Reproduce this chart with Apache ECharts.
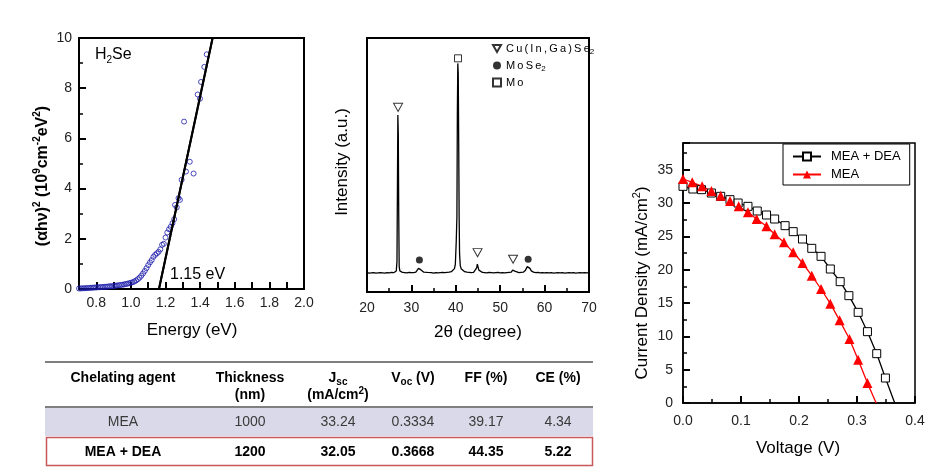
<!DOCTYPE html>
<html><head><meta charset="utf-8">
<script src="https://cdn.jsdelivr.net/npm/echarts/dist/echarts.min.js"></script>
<style>html,body{margin:0;padding:0;background:#fff}#c{width:950px;height:474px}</style>
</head><body><div id="c"></div>
<script>
// ---------- Panel A: Tauc plot ----------
const taucEnergy = [0.70,0.71,0.72,0.73,0.74,0.75,0.76,0.77,0.78,0.79,0.80,0.81,0.82,0.83,0.84,0.85,0.86,0.87,0.88,0.89,
  0.90,0.91,0.92,0.93,0.94,0.95,0.96,0.97,0.98,0.99,1.00,1.01,1.02,1.03,1.04,1.05,1.06,1.07,1.08,1.09,
  1.10,1.11,1.12,1.13,1.14,1.15,1.16,1.17,1.18,1.19,1.20,1.21,1.22,1.23,1.24,1.25,1.255,1.265,1.275,1.283,
  1.293,1.307,1.318,1.34,1.362,1.386,1.399,1.405,1.424,1.438];
const taucValue = [0.02,0.02,0.03,0.03,0.03,0.04,0.04,0.05,0.05,0.06,0.06,0.07,0.07,0.08,0.08,0.09,0.09,0.10,0.11,0.11,
  0.12,0.13,0.14,0.15,0.16,0.17,0.18,0.20,0.21,0.23,0.25,0.27,0.30,0.34,0.39,0.45,0.53,0.62,0.72,0.83,
  0.95,1.06,1.15,1.28,1.36,1.42,1.48,1.58,1.76,1.80,2.05,2.25,2.38,2.48,2.62,2.78,3.35,3.25,3.62,3.55,
  4.35,6.67,4.68,5.07,4.60,7.75,7.58,8.25,8.85,9.35];
const fitLine = [[1.472, 10], [1.162, 0]];
const energyTicks = [0.8, 1.0, 1.2, 1.4, 1.6, 1.8, 2.0];

// ---------- Panel B: XRD ----------
const xrdTheta = [20.0,20.5,21.0,21.5,22.0,22.5,23.0,23.5,24.0,24.5,25.0,25.5,26.0,26.4,26.6,26.75,26.85,26.95,27.05,27.15,27.25,27.4,27.6,
  28.0,28.5,29.0,29.5,30.0,30.5,31.0,31.3,31.6,31.8,32.1,32.4,32.8,33.2,33.6,34.0,34.5,35.0,35.5,36.0,36.5,37.0,37.5,38.0,38.5,39.0,39.4,39.7,39.9,
  40.1,40.25,40.35,40.45,40.55,40.65,40.75,40.85,41.0,41.2,41.5,42.0,42.5,43.0,43.5,44.0,44.4,44.7,44.85,45.0,45.2,45.5,46.0,46.5,47.0,47.5,48.0,
  48.5,49.0,49.5,50.0,50.5,51.0,51.5,52.0,52.5,52.8,53.0,53.3,53.7,54.2,54.7,55.2,55.7,56.1,56.4,56.7,57.0,57.5,58.0,58.5,59.0,59.5,60.0,
  60.5,61.0,61.5,62.0,62.5,63.0,63.5,64.0,64.5,65.0,65.5,66.0,66.5,67.0,67.5,68.0,68.5,69.0,69.5,70.0];
const xrdIntensity = [7.6,7.4,7.5,7.6,7.4,7.5,7.6,7.5,7.4,7.6,7.5,7.7,7.6,7.8,8.3,12,40,69.7,62,30,10,8.3,7.9,
  7.7,7.6,7.5,7.7,7.6,7.6,7.8,8.4,9.3,9.4,8.8,8.1,7.8,7.6,7.7,7.5,7.6,7.4,7.6,7.5,7.6,7.7,7.6,7.7,7.8,8.0,8.4,9.2,11,
  20,29.6,70,90,86,60,30,15,10.5,9.2,8.5,8.0,7.8,7.7,7.6,7.7,8.0,9.5,11.0,10.6,8.6,7.9,7.7,7.6,7.5,7.7,7.6,
  7.5,7.6,7.7,7.5,7.6,7.5,7.6,7.7,7.8,8.6,8.8,8.2,7.7,7.6,7.7,7.8,8.6,10.0,10.2,9.3,8.3,7.8,7.6,7.7,7.5,7.6,7.5,
  7.6,7.5,7.6,7.4,7.5,7.6,7.5,7.6,7.4,7.5,7.6,7.5,7.6,7.4,7.5,7.6,7.5,7.6,7.5,7.6];
const cigsMarks = [[27.0, 72.7], [44.9, 15.5], [52.9, 12.9]];
const mose2Marks = [[31.8, 12.6], [56.3, 12.9]];
const moMarks = [[40.5, 92]];
const xrdLegend = ['Cu(In,Ga)Se2', 'MoSe2', 'Mo'];

// ---------- Panel C: J-V ----------
const deaVoltage = [0.000,0.017,0.032,0.049,0.065,0.081,0.095,0.112,0.128,0.144,0.158,0.176,0.190,0.206,0.222,0.238,0.254,0.271,0.286,0.302,0.318,0.334,0.349];
const deaCurrent = [32.5,32.1,32.0,31.5,31.0,30.5,30.0,29.5,28.8,28.2,27.6,26.6,25.7,24.6,23.2,22.0,20.1,18.2,16.1,13.6,10.7,7.4,3.75];
const deaEnd = [0.365, 0];
const meaVoltage = [0.000,0.016,0.033,0.049,0.065,0.081,0.096,0.112,0.127,0.144,0.158,0.174,0.190,0.206,0.222,0.238,0.254,0.270,0.287,0.302,0.318];
const meaCurrent = [33.6,33.1,32.5,31.8,31.1,30.3,29.5,28.6,27.6,26.5,25.3,24.1,22.6,21.0,19.1,17.1,14.9,12.4,9.6,6.5,3.0];
const meaEnd = [0.333, 0];
const jvLegend = ['MEA + DEA', 'MEA'];

// ---------- Table ----------
const tableHead1 = ['Chelating agent', 'Thickness', '{b|J}{bs|sc}', '{b|V}{bs|oc}{b| (V)}', 'FF (%)', 'CE (%)'];
const tableHead2 = ['', '(nm)', '{b|(mA/cm}{bp|2}{b|)}', '', '', ''];
const tableRowMEA = ['MEA', '1000', '33.24', '0.3334', '39.17', '4.34'];
const tableRowDEA = ['MEA + DEA', '1200', '32.05', '0.3668', '44.35', '5.22'];

const F = 'Arial, "Liberation Sans", Helvetica, sans-serif';
const chart = echarts.init(document.getElementById('c'), null, {renderer: 'canvas'});

const TICK = {show: true, inside: true, length: 7, lineStyle: {color: '#000', width: 2}};
const MINOR = {show: true, splitNumber: 2, length: 4, lineStyle: {color: '#000', width: 1.5}};
function axisBase(extra) {
  return Object.assign({
    type: 'value',
    axisLine: {show: true, lineStyle: {color: '#000', width: 2}},
    axisTick: TICK,
    splitLine: {show: false},
    axisLabel: {color: '#222', fontSize: 14, fontFamily: F}
  }, extra);
}
const spaced = s => s.split('').join('\u2009');

const colX = [123, 250, 338, 413, 486, 558];
const graphics = [];
function txt(x, y, text, style, rotation) {
  graphics.push({type: 'text', x: x, y: y, rotation: rotation || 0, silent: true, z: 100,
    style: Object.assign({text: text, fill: '#000', align: 'center', verticalAlign: 'middle',
      textAlign: 'center', textVerticalAlign: 'middle', fontFamily: F}, style)});
}
// Axis titles
txt(43, 176, '{n|(\u03b1h\u03bd)}{p|2}{n| (10}{p|9}{n|cm}{p|-2}{n|eV}{p|2}{n|)}', {
  rich: {n: {fontSize: 16, fontWeight: 'bold', fontFamily: F, lineHeight: 22},
         p: {fontSize: 10, fontWeight: 'bold', fontFamily: F, lineHeight: 10, verticalAlign: 'top'}}}, Math.PI / 2);
txt(192, 330, 'Energy (eV)', {fontSize: 17});
txt(342, 162, 'Intensity (a.u.)', {fontSize: 17}, Math.PI / 2);
txt(478, 332, '2\u03b8 (degree)', {fontSize: 17});
txt(642, 283, '{n|Current Density (mA/cm}{p|2}{n|)}', {
  rich: {n: {fontSize: 17, fontFamily: F, lineHeight: 22},
         p: {fontSize: 11, fontFamily: F, lineHeight: 10, verticalAlign: 'top'}}}, Math.PI / 2);
txt(798, 448, 'Voltage (V)', {fontSize: 17});
// Annotations
txt(95, 55, '{a|H}{s|2}{a|Se}', {align: 'left', textAlign: 'left',
  rich: {a: {fontSize: 16, fontFamily: F, lineHeight: 20}, s: {fontSize: 10, fontFamily: F, lineHeight: 10, verticalAlign: 'bottom'}}});
txt(170, 275, '1.15 eV', {fontSize: 16, align: 'left', textAlign: 'left'});

// Table
graphics.push({type: 'rect', silent: true, shape: {x: 45, y: 408, width: 548, height: 28}, style: {fill: '#d9d9e9'}});
graphics.push({type: 'line', silent: true, shape: {x1: 45, y1: 362, x2: 593, y2: 362}, style: {stroke: '#555', lineWidth: 1.5}});
graphics.push({type: 'line', silent: true, shape: {x1: 45, y1: 407, x2: 593, y2: 407}, style: {stroke: '#555', lineWidth: 1.5}});
graphics.push({type: 'rect', silent: true, shape: {x: 46.5, y: 437.5, width: 546, height: 28}, style: {fill: 'none', stroke: '#c8595b', lineWidth: 1.5}});
const hRich = {b: {fontSize: 14, fontWeight: 'bold', fontFamily: F, lineHeight: 18},
  bs: {fontSize: 10, fontWeight: 'bold', fontFamily: F, lineHeight: 10, verticalAlign: 'bottom'},
  bp: {fontSize: 10, fontWeight: 'bold', fontFamily: F, lineHeight: 10, verticalAlign: 'top'}};
tableHead1.forEach((t, i) => {
  const s = t.indexOf('{') === 0 ? t : '{b|' + t + '}';
  txt(colX[i], 378, s, {rich: hRich});
});
tableHead2.forEach((t, i) => {
  if (!t) return;
  const s = t.indexOf('{') === 0 ? t : '{b|' + t + '}';
  txt(colX[i], 395, s, {rich: hRich});
});
tableRowMEA.forEach((t, i) => txt(colX[i], 422, t, {fontSize: 14, fill: '#3a3a3a'}));
tableRowDEA.forEach((t, i) => txt(colX[i], 452, t, {fontSize: 14, fontWeight: 'bold'}));

const downTri = 'path://M0,0 L10,0 L5,8.66 Z';
const subFmt = name => name.endsWith('2') ? '{t|' + spaced(name.slice(0, -1)) + '}{s|2}' : '{t|' + spaced(name) + '}';

const option = {
  animation: false,
  backgroundColor: '#fff',
  grid: [
    {left: 79, top: 38, width: 225, height: 251, show: true, borderColor: '#000', borderWidth: 2, backgroundColor: 'transparent'},
    {left: 367, top: 38, width: 222, height: 254, show: true, borderColor: '#000', borderWidth: 2, backgroundColor: 'transparent'},
    {left: 683, top: 143, width: 232, height: 260, show: true, borderColor: '#000', borderWidth: 1.5, backgroundColor: 'transparent'}
  ],
  xAxis: [
    axisBase({gridIndex: 0, min: 0.7, max: 2.0, interval: 0.1,
      axisLabel: {color: '#222', fontSize: 14, fontFamily: F, margin: 7,
        formatter: v => energyTicks.some(t => Math.abs(t - v) < 1e-6) ? v.toFixed(1) : ''}}),
    axisBase({gridIndex: 1, min: 20, max: 70, interval: 10, minorTick: MINOR,
      axisLabel: {color: '#222', fontSize: 14, fontFamily: F, margin: 9}}),
    axisBase({gridIndex: 2, min: 0, max: 0.4, interval: 0.1, minorTick: MINOR,
      axisLine: {show: true, lineStyle: {color: '#000', width: 1.5}},
      axisLabel: {color: '#222', fontSize: 14, fontFamily: F, margin: 11, formatter: v => v.toFixed(1)}})
  ],
  yAxis: [
    axisBase({gridIndex: 0, min: 0, max: 10, interval: 2, minorTick: MINOR,
      axisLabel: {color: '#222', fontSize: 14, fontFamily: F, margin: 7}}),
    axisBase({gridIndex: 1, min: 0, max: 100, axisTick: {show: false}, axisLabel: {show: false}}),
    axisBase({gridIndex: 2, min: 0, max: 39, interval: 5, minorTick: MINOR,
      axisLine: {show: true, lineStyle: {color: '#000', width: 1.5}},
      axisLabel: {color: '#222', fontSize: 14, fontFamily: F, margin: 10, showMaxLabel: false}})
  ],
  legend: [
    {data: xrdLegend, orient: 'vertical', left: 492, top: 43, padding: 0, itemGap: 4.5,
      itemWidth: 8, itemHeight: 8, selectedMode: false, formatter: subFmt,
      textStyle: {color: '#000', fontFamily: F, rich: {
        t: {fontSize: 11, fontFamily: F, lineHeight: 14, color: '#000'},
        s: {fontSize: 8, fontFamily: F, lineHeight: 8, verticalAlign: 'bottom', color: '#000'}}}},
    {data: jvLegend, orient: 'vertical', left: 783, top: 144, padding: [6, 9, 4, 9], itemGap: 5,
      itemWidth: 28, itemHeight: 10, selectedMode: false, borderColor: '#000', borderWidth: 1,
      backgroundColor: '#fff',
      textStyle: {color: '#000', fontSize: 13, fontFamily: F, padding: [0, 0, 0, 5]}}
  ],
  series: [
    {name: 'tauc', type: 'scatter', xAxisIndex: 0, yAxisIndex: 0, symbol: 'circle', symbolSize: 5,
      itemStyle: {color: 'rgba(0,0,0,0)', borderColor: '#1c1caa', borderWidth: 1},
      data: taucEnergy.map((e, i) => [e, taucValue[i]])},
    {name: 'fit', type: 'line', xAxisIndex: 0, yAxisIndex: 0, symbol: 'none',
      lineStyle: {color: '#000', width: 2}, data: fitLine,
      markLine: {silent: true, symbol: ['none', 'arrow'], symbolSize: [0, 10], label: {show: false},
        lineStyle: {color: '#000', width: 2, type: 'solid'},
        data: [[{coord: fitLine[0]}, {coord: fitLine[1]}]]}},
    {name: 'xrd', type: 'line', xAxisIndex: 1, yAxisIndex: 1, symbol: 'none',
      lineStyle: {color: '#000', width: 1.3}, data: xrdTheta.map((t, i) => [t, xrdIntensity[i]])},
    {name: xrdLegend[0], type: 'scatter', xAxisIndex: 1, yAxisIndex: 1, symbol: downTri, symbolSize: [9, 8],
      itemStyle: {color: '#fff', borderColor: '#000', borderWidth: 1}, data: cigsMarks},
    {name: xrdLegend[1], type: 'scatter', xAxisIndex: 1, yAxisIndex: 1, symbol: 'circle', symbolSize: 7,
      itemStyle: {color: '#000'}, data: mose2Marks},
    {name: xrdLegend[2], type: 'scatter', xAxisIndex: 1, yAxisIndex: 1, symbol: 'rect', symbolSize: 7,
      itemStyle: {color: '#fff', borderColor: '#000', borderWidth: 1}, data: moMarks},
    {name: jvLegend[0], type: 'line', xAxisIndex: 2, yAxisIndex: 2, symbol: 'rect', symbolSize: 8,
      lineStyle: {color: '#000', width: 1.3}, itemStyle: {color: '#fff', borderColor: '#000', borderWidth: 1},
      data: deaVoltage.map((v, i) => [v, deaCurrent[i]]).concat([{value: deaEnd, symbol: 'none'}])},
    {name: jvLegend[1], type: 'line', xAxisIndex: 2, yAxisIndex: 2, symbol: 'triangle', symbolSize: 10,
      lineStyle: {color: '#ff0000', width: 1.3}, itemStyle: {color: '#ff0000'},
      data: meaVoltage.map((v, i) => [v, meaCurrent[i]]).concat([{value: meaEnd, symbol: 'none'}])}
  ],
  graphic: graphics
};
chart.setOption(option);
</script></body></html>
